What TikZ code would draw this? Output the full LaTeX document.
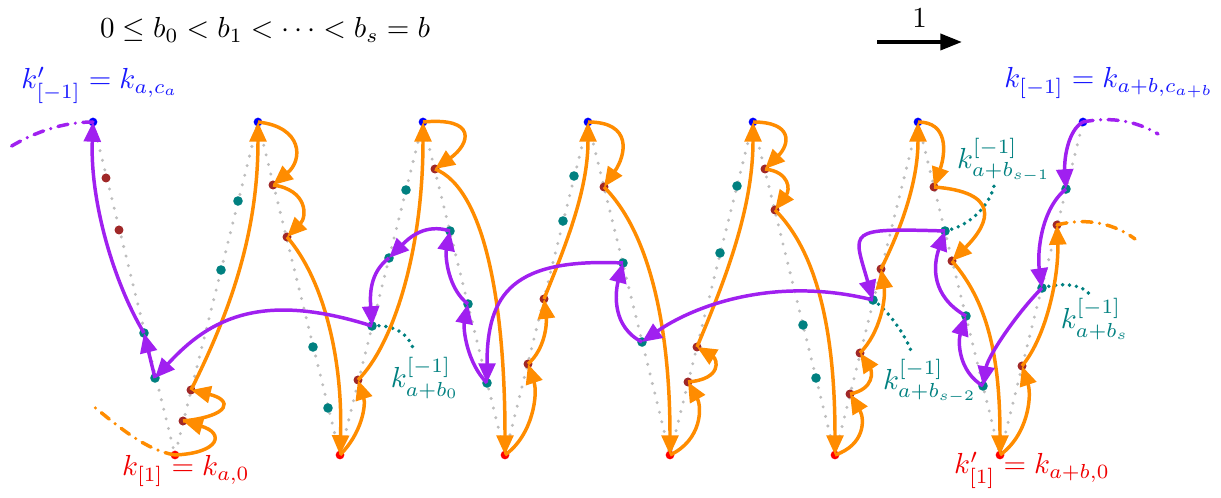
\documentclass[tikz,border=0pt]{standalone}
\usetikzlibrary{arrows.meta}
\definecolor{myorange}{RGB}{255,140,0}
\definecolor{mypurple}{RGB}{160,32,240}
\definecolor{mybrown}{RGB}{160,40,40}
\definecolor{myteal}{RGB}{0,128,128}
\definecolor{mygray}{RGB}{190,190,190}
\definecolor{myblue}{RGB}{25,25,255}
\definecolor{myred}{RGB}{240,0,0}
\begin{document}
\begin{tikzpicture}[x=0.01212cm,y=-0.01212cm,
  tipa/.style={-{Triangle[length=6.8pt,width=5.8pt]}},
  oarr/.style={myorange,line width=1.2pt,tipa},
  parr/.style={mypurple,line width=1.2pt,tipa},
  zig/.style={mygray,line width=1.15pt,line cap=round,dash pattern=on 0pt off 3.4pt},
  lead/.style={myteal,line width=1.35pt,line cap=round,dash pattern=on 0pt off 2.4pt},
  odash/.style={myorange,line width=1.2pt,line cap=round,dash pattern=on 3.5pt off 2.6pt on 0pt off 2.6pt},
  pdash/.style={mypurple,line width=1.2pt,line cap=round,dash pattern=on 3.5pt off 2.6pt on 0pt off 2.6pt},
  lab/.style={inner sep=0pt}
]
\useasboundingbox (0,0) rectangle (1221,498);
% tops and bottoms
\coordinate (T0) at (93,122);  \coordinate (T1) at (258,122); \coordinate (T2) at (423,122);
\coordinate (T3) at (588,122); \coordinate (T4) at (753,122); \coordinate (T5) at (918,122);
\coordinate (T6) at (1083,122);
\coordinate (B0) at (175,455); \coordinate (B1) at (340,455); \coordinate (B2) at (505,455);
\coordinate (B3) at (670,455); \coordinate (B4) at (835,455); \coordinate (B5) at (1000,455);
% intermediate points
\coordinate (A1) at (106,178); \coordinate (A2) at (119,230); \coordinate (A3) at (144,333); \coordinate (A4) at (155,378);
\coordinate (C1) at (183,421); \coordinate (C2) at (191,390); \coordinate (C3) at (221,270); \coordinate (C4) at (238,201);
\coordinate (D1) at (273,185); \coordinate (D2) at (287,237); \coordinate (D3) at (313,347); \coordinate (D4) at (328,408);
\coordinate (E1) at (358,380); \coordinate (E2) at (372,326); \coordinate (E3) at (389,258); \coordinate (E4) at (406,190);
\coordinate (F1) at (435,169); \coordinate (F2) at (450,231); \coordinate (F3) at (468,304); \coordinate (F4) at (487,383);
\coordinate (G1) at (528,364); \coordinate (G2) at (544,299); \coordinate (G3) at (563,221); \coordinate (G4) at (574,176);
\coordinate (H1) at (604,187); \coordinate (H2) at (623,263); \coordinate (H3) at (642,342);
\coordinate (I1) at (688,382); \coordinate (I2) at (697,347); \coordinate (I3) at (720,253); \coordinate (I4) at (737,186);
\coordinate (J1) at (765,169); \coordinate (J2) at (775,210); \coordinate (J3) at (803,325); \coordinate (J4) at (816,378);
\coordinate (K1) at (850,394); \coordinate (K2) at (860,353); \coordinate (K3) at (873,300); \coordinate (K4) at (881,269);
\coordinate (L1) at (934,187); \coordinate (L2) at (945,231); \coordinate (L3) at (952,261); \coordinate (L4) at (966,316); \coordinate (L5) at (983,386);
\coordinate (M1) at (1022,366); \coordinate (M2) at (1042,288); \coordinate (M3) at (1057,225); \coordinate (M4) at (1066,189);
% free ends
\coordinate (eo1) at (93,406); \coordinate (eo2) at (1135,239);
\coordinate (ep1) at (10,147); \coordinate (ep2) at (1158,134);
\coordinate (lb0) at (413,348); \coordinate (ls1) at (994,186);
\coordinate (ls2) at (911,351); \coordinate (ls0) at (1091,296);
\coordinate (u0) at (877,42); \coordinate (u1) at (962,42);

% zig-zag
\draw[zig] (T0) -- (B0) -- (T1) -- (B1) -- (T2) -- (B2) -- (T3) -- (B3) -- (T4) -- (B4) -- (T5) -- (B5) -- (T6);

% dots
\foreach \p in {T0,T1,T2,T3,T4,T5,T6} \fill[blue] (\p) circle[radius=1.5pt];
\foreach \p in {B0,B1,B2,B3,B4,B5} \fill[red] (\p) circle[radius=1.5pt];
\foreach \p in {A1,A2,C1,C2,D1,D2,E1,F1,G1,G2,H1,I1,I2,J1,J2,K1,K2,K4,L1,L3,M1,M3}
  \fill[mybrown] (\p) circle[radius=1.55pt];
\foreach \p in {A3,A4,C3,C4,D3,D4,E2,E3,E4,F2,F3,F4,G3,G4,H2,H3,I3,I4,J3,J4,K3,L2,L4,L5,M2,M4}
  \fill[myteal] (\p) circle[radius=1.65pt];

% label leaders
\draw[lead] (E2) .. controls +(20,-2) and +(-5,-15) .. (lb0);
\draw[lead] (L2) .. controls +(25,-5) and +(-5,20) .. (ls1);
\draw[lead] (K3) .. controls +(15,10) and +(-5,-15) .. (ls2);
\draw[lead] (M2) .. controls +(20,-6) and +(-8,-12) .. (ls0);

% dash-dot ends
\draw[odash] (B0) .. controls +(-30,-5) and +(25,20) .. (eo1);
\draw[odash] (M3) .. controls +(30,-8) and +(-20,-15) .. (eo2);
\draw[pdash] (T0) .. controls +(-30,0) and +(25,-15) .. (ep1);
\draw[pdash] (T6) .. controls +(30,-6) and +(-20,-12) .. (ep2);

% orange arrows
\draw[oarr] (B0) .. controls +(45,-2) and +(42,12) .. (C1);
\draw[oarr] (C1) .. controls +(48,-5) and +(42,10) .. (C2);
\draw[oarr] (C2) .. controls +(40,-80) and +(0,110) .. (T1);
\draw[oarr] (T1) .. controls +(45,5) and +(30,-25) .. (D1);
\draw[oarr] (D1) .. controls +(35,5) and +(20,-20) .. (D2);
\draw[oarr] (D2) .. controls +(35,40) and +(3,-100) .. (B1);
\draw[oarr] (B1) .. controls +(22,-22) and +(8,25) .. (E1);
\draw[oarr] (E1) .. controls +(35,-35) and +(0,130) .. (T2);
\draw[oarr] (T2) .. controls +(55,-5) and +(35,-25) .. (F1);
\draw[oarr] (F1) .. controls +(50,20) and +(0,-150) .. (B2);
\draw[oarr] (B2) .. controls +(28,-20) and +(10,30) .. (G1);
\draw[oarr] (G1) .. controls +(17,-15) and +(3,25) .. (G2);
\draw[oarr] (G2) .. controls +(20,-50) and +(0,70) .. (T3);
\draw[oarr] (T3) .. controls +(45,0) and +(22,-32) .. (H1);
\draw[oarr] (H1) .. controls +(45,45) and +(0,-130) .. (B3);
\draw[oarr] (B3) .. controls +(32,-15) and +(14,25) .. (I1);
\draw[oarr] (I1) .. controls +(35,-3) and +(20,12) .. (I2);
\draw[oarr] (I2) .. controls +(25,-60) and +(0,90) .. (T4);
\draw[oarr] (T4) .. controls +(40,0) and +(25,-25) .. (J1);
\draw[oarr] (J1) .. controls +(25,3) and +(15,-20) .. (J2);
\draw[oarr] (J2) .. controls +(40,40) and +(0,-130) .. (B4);
\draw[oarr] (B4) .. controls +(30,-10) and +(15,25) .. (K1);
\draw[oarr] (K1) .. controls +(25,-5) and +(12,18) .. (K2);
\draw[oarr] (K2) .. controls +(20,-20) and +(5,30) .. (K4);
\draw[oarr] (K4) .. controls +(20,-40) and +(0,60) .. (T5);
\draw[oarr] (T5) .. controls +(30,0) and +(12,-35) .. (L1);
\draw[oarr] (L1) .. controls +(65,5) and +(40,-40) .. (L3);
\draw[oarr] (L3) .. controls +(35,40) and +(0,-100) .. (B5);
\draw[oarr] (B5) .. controls +(28,-20) and +(10,30) .. (M1);
\draw[oarr] (M1) .. controls +(25,-30) and +(2,50) .. (M3);

% purple arrows
\draw[parr] (A3) .. controls +(-30,-50) and +(-3,80) .. (T0);
\draw[parr] (A4) -- (A3);
\draw[parr] (E2) .. controls +(-110,-35) and +(55,-60) .. (A4);
\draw[parr] (F2) .. controls +(-25,-8) and +(20,-20) .. (E3);
\draw[parr] (E3) .. controls +(-20,15) and +(-2,-30) .. (E2);
\draw[parr] (F4) .. controls +(-20,-20) and +(-5,25) .. (F3);
\draw[parr] (F3) .. controls +(-20,-15) and +(-5,25) .. (F2);
\draw[parr] (H2) .. controls +(-110,-5) and +(0,-90) .. (F4);
\draw[parr] (H3) .. controls +(-30,-15) and +(-8,30) .. (H2);
\draw[parr] (K3) .. controls +(-100,-25) and +(50,-35) .. (H3);
\draw[parr] (L2) .. controls +(-100,-3) and +(-20,-70) .. (K3);
\draw[parr] (L4) .. controls +(-35,-20) and +(-12,35) .. (L2);
\draw[parr] (L5) .. controls +(-25,-15) and +(-8,25) .. (L4);
\draw[parr] (M2) .. controls +(-25,25) and +(5,-30) .. (L5);
\draw[parr] (M4) .. controls +(-25,20) and +(-5,-35) .. (M2);
\draw[parr] (T6) .. controls +(-15,8) and +(-2,-30) .. (M4);

% labels
\node[lab] (ttl) at (265,30) {$0\le b_0<b_1<\cdots<b_s=b$};
\draw[line width=1.4pt,-{Triangle[length=7.5pt,width=5.5pt]}] (u0) -- node[above=1pt] (one) {$1$} (u1);
\node[lab,text=myblue] (kt0) at (100,85) {$k'_{[-1]}=k_{a,c_a}$};
\node[lab,text=myblue] (kt6) at (1109,83) {$k_{[-1]}=k_{a+b,c_{a+b}}$};
\node[lab,text=myred] (kb0) at (186,471) {$k_{[1]}=k_{a,0}$};
\node[lab,text=myred] (kb5) at (1032,470) {$k'_{[1]}=k_{a+b,0}$};
\node[lab,text=myteal] (lbl0) at (425,378) {$k^{[-1]}_{a+b_0}$};
\node[lab,text=myteal] (lbl1) at (1004,160) {$k^{[-1]}_{a+b_{s-1}}$};
\node[lab,text=myteal] (lbl2) at (930,381) {$k^{[-1]}_{a+b_{s-2}}$};
\node[lab,text=myteal] (lbl3) at (1095,319) {$k^{[-1]}_{a+b_s}$};
\end{tikzpicture}
\end{document}
